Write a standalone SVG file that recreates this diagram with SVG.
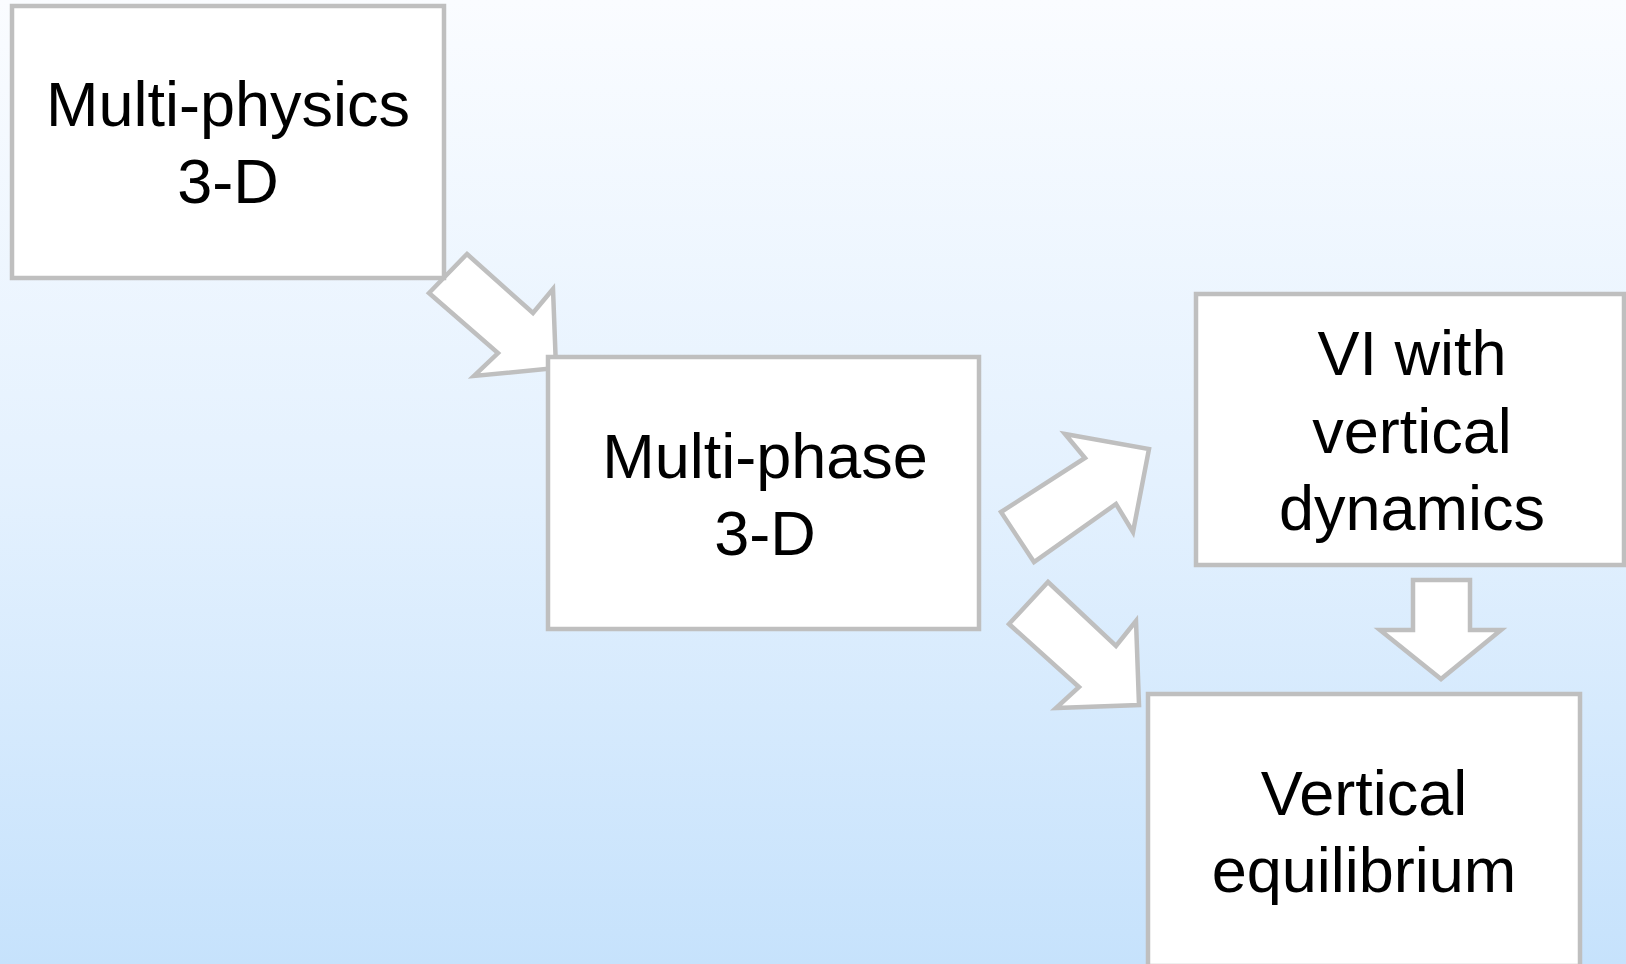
<svg xmlns="http://www.w3.org/2000/svg" width="1626" height="964" viewBox="0 0 1626 964">
<defs>
<linearGradient id="bg" x1="0" y1="0" x2="0" y2="1">
<stop offset="0" stop-color="#fafcff"/>
<stop offset="0.5" stop-color="#e4f1fe"/>
<stop offset="1" stop-color="#c6e2fc"/>
</linearGradient>
<style>
.box{fill:#ffffff;stroke:#bfbfbf;stroke-width:4.5}
.arr{fill:#ffffff;stroke:#bfbfbf;stroke-width:4.5;stroke-linejoin:miter}
.t{font-family:"Liberation Sans",Arial,sans-serif;font-size:63px;fill:#000000;text-anchor:middle}
</style>
</defs>
<rect x="0" y="0" width="1626" height="964" fill="url(#bg)"/>
<g id="connectors">
<polygon class="arr" points="467,254 533,313 553,289 556,368 474,376 498,353 429,293"/>
<polygon class="arr" points="1065,434 1149,449 1133,532 1116,504 1034,562 1001,512 1085,458"/>
<polygon class="arr" points="1048,582 1116,646 1136,621 1139,705 1056,708 1079,687 1009,624"/>
<polygon class="arr" points="1413,580 1470,580 1470,630 1501,630 1441,679 1380,630 1413,630"/>
</g>
<g id="node-multiphysics">
<rect class="box" x="12" y="6" width="432" height="272"/>
<text class="t" x="228" y="126">Multi-physics</text>
<text class="t" x="228" y="203">3-D</text>
</g>
<g id="node-multiphase">
<rect class="box" x="548" y="357" width="431" height="272"/>
<text class="t" x="765" y="478">Multi-phase</text>
<text class="t" x="765" y="555">3-D</text>
</g>
<g id="node-vi">
<rect class="box" x="1196" y="294" width="428" height="271"/>
<text class="t" x="1412" y="375">VI with</text>
<text class="t" x="1412" y="453">vertical</text>
<text class="t" x="1412" y="530">dynamics</text>
</g>
<g id="node-ve">
<rect class="box" x="1148" y="694" width="432" height="272"/>
<text class="t" x="1364" y="815">Vertical</text>
<text class="t" x="1364" y="892">equilibrium</text>
</g>
</svg>
